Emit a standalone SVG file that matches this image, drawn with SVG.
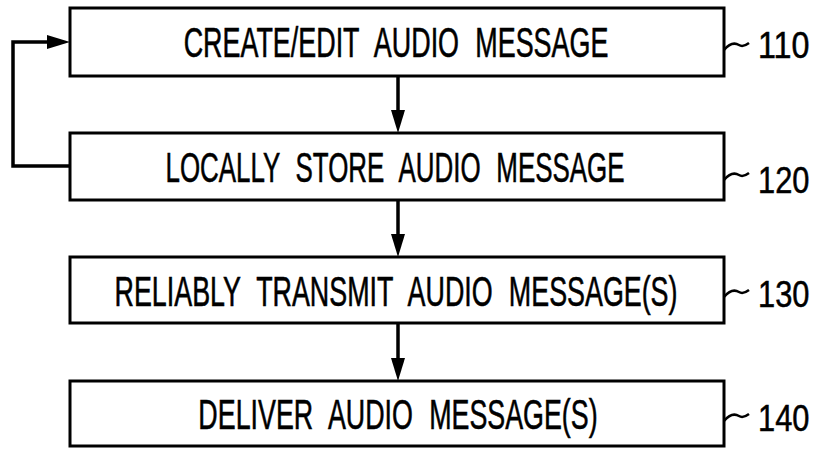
<svg xmlns="http://www.w3.org/2000/svg" width="823" height="449" viewBox="0 0 823 449">
<defs>
<style>
.box{fill:#fff;stroke:#000;stroke-width:3}
.lbl{font-family:"Liberation Sans",Arial,sans-serif;font-size:43px;fill:#000;stroke:#000;stroke-width:0.6;text-anchor:middle;word-spacing:14px}
.num{font-family:"Liberation Sans",Arial,sans-serif;font-size:37px;fill:#000;stroke:#000;stroke-width:0.5}
.sq{fill:none;stroke:#000;stroke-width:2.5}
.conn{fill:none;stroke:#000;stroke-width:3.5}
.head{fill:#000}
</style>
</defs>
<g id="connectors">
<line class="conn" x1="398" y1="76" x2="398" y2="113"/>
<path class="head" d="M391,110 L405,110 L398,133 z"/>
<line class="conn" x1="398" y1="200" x2="398" y2="237"/>
<path class="head" d="M391,234 L405,234 L398,257 z"/>
<line class="conn" x1="398" y1="323" x2="398" y2="361"/>
<path class="head" d="M391,358 L405,358 L398,381 z"/>
<polyline class="conn" points="70,166 13,166 13,42 50,42"/>
<path class="head" d="M47,35 L47,49 L70,42 z"/>
</g>
<g id="n110">
<rect class="box" x="70" y="8" width="654" height="68"/>
<text class="lbl" transform="translate(396,57) scale(0.62,1)" x="0" y="0" textLength="685" lengthAdjust="spacingAndGlyphs">CREATE/EDIT AUDIO MESSAGE</text>
<path class="sq" d="M724,50 C729,44 734,42 739,45 C742,47 745,46 749,43"/>
<text class="num" transform="translate(758,58) scale(0.83,1)" x="0" y="0" textLength="62" lengthAdjust="spacingAndGlyphs">110</text>
</g>
<g id="n120">
<rect class="box" x="70" y="133" width="654" height="67"/>
<text class="lbl" transform="translate(395,182) scale(0.6,1)" x="0" y="0" textLength="765" lengthAdjust="spacingAndGlyphs">LOCALLY STORE AUDIO MESSAGE</text>
<path class="sq" d="M724,180 C729,174 734,172 739,175 C742,177 745,176 749,173"/>
<text class="num" transform="translate(758,193) scale(0.83,1)" x="0" y="0" textLength="62" lengthAdjust="spacingAndGlyphs">120</text>
</g>
<g id="n130">
<rect class="box" x="70" y="257" width="654" height="66"/>
<text class="lbl" transform="translate(396,306) scale(0.62,1)" x="0" y="0" textLength="908" lengthAdjust="spacingAndGlyphs">RELIABLY TRANSMIT AUDIO MESSAGE(S)</text>
<path class="sq" d="M724,297 C729,291 734,289 739,292 C742,294 745,293 749,290"/>
<text class="num" transform="translate(758,307) scale(0.83,1)" x="0" y="0" textLength="62" lengthAdjust="spacingAndGlyphs">130</text>
</g>
<g id="n140">
<rect class="box" x="70" y="381" width="654" height="65"/>
<text class="lbl" transform="translate(398,429) scale(0.62,1)" x="0" y="0" textLength="644" lengthAdjust="spacingAndGlyphs">DELIVER AUDIO MESSAGE(S)</text>
<path class="sq" d="M724,421 C729,415 734,413 739,416 C742,418 745,417 749,414"/>
<text class="num" transform="translate(758,431) scale(0.83,1)" x="0" y="0" textLength="62" lengthAdjust="spacingAndGlyphs">140</text>
</g>
</svg>
